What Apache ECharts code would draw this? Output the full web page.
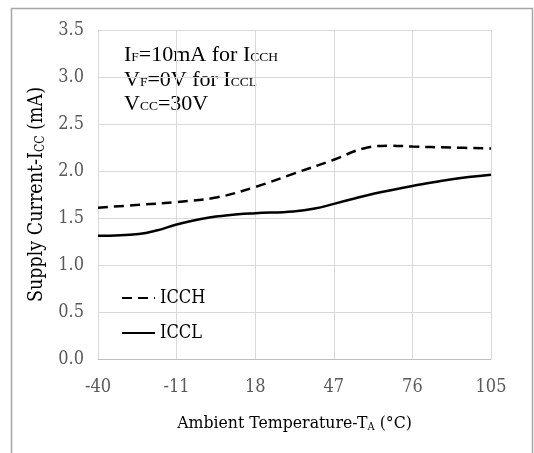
<!DOCTYPE html>
<html>
<head>
<meta charset="utf-8">
<script src="https://cdn.jsdelivr.net/npm/echarts@6/dist/echarts.min.js"></script>
<style>
  html, body { margin: 0; padding: 0; background: #fff; }
  #chart { width: 534px; height: 453px; }
</style>
</head>
<body>
<div id="chart"></div>
<script>
// temperatures (°C) and currents (mA)
const tempICCH = [-40, -25, -11, 4, 18, 32, 47, 58, 68, 76, 90, 105]
const valICCH = [1.61, 1.64, 1.67, 1.72, 1.83, 1.97, 2.12, 2.24, 2.27, 2.26, 2.25, 2.24]
const tempICCL = [-40, -25, -18, -11, 0, 8, 18, 32, 40, 47, 55, 62, 76, 90, 105]
const valICCL = [1.31, 1.33, 1.37, 1.43, 1.50, 1.53, 1.55, 1.57, 1.60, 1.65, 1.71, 1.76, 1.84, 1.91, 1.96]
const seriesNames = ['ICCH', 'ICCL']

const tickFont = 'DejaVu Serif Condensed'
const zip = (xs, ys) => xs.map((x, i) => [x, ys[i]])

const chart = echarts.init(document.getElementById('chart'))
const option = {
  animation: false,
  backgroundColor: '#fff',
  grid: { left: 98, right: 43, top: 30, bottom: 94 },
  legend: {
    orient: 'vertical',
    left: 116,
    top: 284,
    itemWidth: 33,
    itemHeight: 14,
    itemGap: 17,
    data: seriesNames,
    itemStyle: { opacity: 0 },
    textStyle: { fontFamily: tickFont, fontSize: 18, color: '#000' }
  },
  xAxis: {
    type: 'value',
    min: -40,
    max: 105,
    interval: 29,
    axisLine: { show: true, lineStyle: { color: '#bfbfbf', width: 1 } },
    axisTick: { show: false },
    axisLabel: { margin: 19, fontFamily: tickFont, fontSize: 18, color: '#595959' },
    splitLine: { show: true, lineStyle: { color: '#d9d9d9', width: 1 } },
    name: 'Ambient Temperature-T{sub|A} (°C)',
    nameLocation: 'middle',
    nameGap: 55,
    nameTextStyle: {
      fontFamily: tickFont, fontSize: 17.5, color: '#000',
      rich: { sub: { fontFamily: tickFont, fontSize: 11, color: '#000', padding: [8, 0, 0, 0] } }
    }
  },
  yAxis: {
    type: 'value',
    min: 0,
    max: 3.5,
    interval: 0.5,
    axisLine: { show: false },
    axisTick: { show: false },
    axisLabel: {
      margin: 14, fontFamily: tickFont, fontSize: 18, color: '#595959',
      formatter: v => v.toFixed(1)
    },
    splitLine: { show: true, lineStyle: { color: '#d9d9d9', width: 1 } },
    name: 'Supply Current-I{sub|CC} (mA)',
    nameLocation: 'middle',
    nameGap: 43,
    nameTextStyle: {
      fontFamily: tickFont, fontSize: 19.5, color: '#000',
      rich: { sub: { fontFamily: tickFont, fontSize: 12, color: '#000', padding: [8, 0, 0, 0] } }
    }
  },
  series: [
    {
      name: seriesNames[0],
      type: 'line',
      smooth: 0.4,
      symbol: 'none',
      lineStyle: { color: '#000', width: 2.5, type: [10, 6] },
      itemStyle: { color: '#000' },
      data: zip(tempICCH, valICCH)
    },
    {
      name: seriesNames[1],
      type: 'line',
      smooth: 0.4,
      symbol: 'none',
      lineStyle: { color: '#000', width: 2.5 },
      itemStyle: { color: '#000' },
      data: zip(tempICCL, valICCL)
    }
  ],
  graphic: [
    {
      type: 'polyline',
      silent: true,
      shape: { points: [[11.5, 453], [11.5, 8.5], [532.5, 8.5], [532.5, 453]] },
      style: { stroke: '#a6a6a6', lineWidth: 1.5, fill: null }
    },
    {
      type: 'text',
      left: 124,
      top: 43,
      silent: true,
      style: {
        text: 'I{s|F}=10mA for I{s|CCH}\nV{s|F}=0V for I{s|CCL}\nV{s|CC}=30V',
        fontFamily: 'Liberation Serif',
        fontSize: 22,
        lineHeight: 24.5,
        fill: '#000',
        rich: {
          s: { fontFamily: 'Liberation Serif', fontSize: 13.5, fill: '#000', lineHeight: 24.5, padding: [5, 0, 0, 0] }
        }
      }
    }
  ]
}
chart.setOption(option)
</script>
</body>
</html>
